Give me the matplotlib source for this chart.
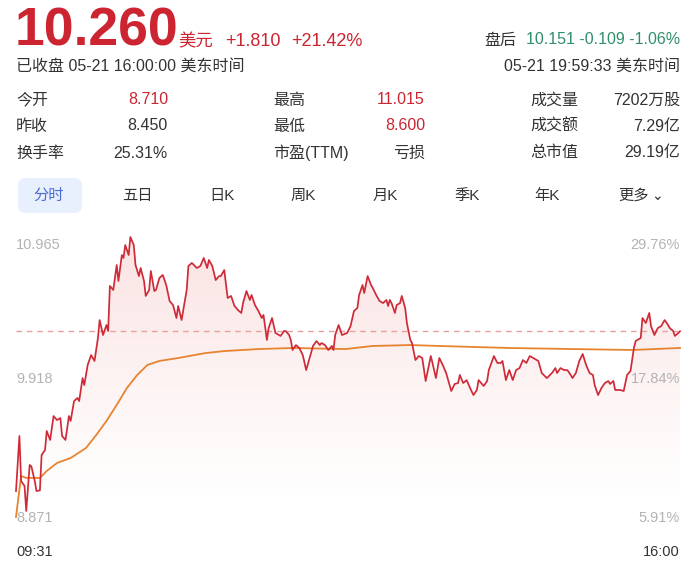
import numpy as np
import matplotlib
matplotlib.use("Agg")
import matplotlib.pyplot as plt
from matplotlib.colors import to_rgb
from matplotlib.patches import FancyBboxPatch

plt.rcParams['font.family'] = ['Liberation Sans', 'Noto Sans CJK SC', 'DejaVu Sans']

W, H = 700, 572

# quote header
last_price = '10.260'
change = '+1.810'
change_pct = '+21.42%'
status = '已收盘 05-21 16:00:00 美东时间'
after_hours = '10.151 -0.109 -1.06%'
after_time = '05-21 19:59:33 美东时间'

stat_labels = [['今开', '昨收', '换手率'],
               ['最高', '最低', '市盈(TTM)'],
               ['成交量', '成交额', '总市值']]
stat_values = [['8.710', '8.450', '25.31%'],
               ['11.015', '8.600', '亏损'],
               ['7202万股', '7.29亿', '29.19亿']]
stat_red = [[True, False, False],
            [True, True, False],
            [False, False, False]]

tabs = ['分时', '五日', '日K', '周K', '月K', '季K', '年K', '更多']

# intraday minutes since 09:31 and price
minutes = [0, 2, 3, 5, 6, 8, 9, 11, 12, 14, 15, 17, 18, 20, 22, 24, 26, 27, 29, 31,
           32, 34, 36, 37, 39, 40, 42, 44, 46, 48, 49, 51, 53, 54, 55, 57, 59, 60, 62, 63,
           64, 66, 67, 69, 70, 72, 73, 75, 76, 78, 79, 81, 82, 84, 86, 88, 90, 92, 94, 95,
           97, 100, 101, 103, 106, 108, 110, 112, 113, 115, 117, 119, 120, 122, 124, 126, 128, 130, 132, 133,
           135, 137, 138, 140, 142, 144, 145, 147, 148, 150, 152, 154, 155, 157, 158, 160, 161, 162, 164, 166,
           168, 170, 172, 174, 176, 178, 179, 181, 183, 185, 186, 187, 189, 191, 194, 196, 198, 200, 201, 203,
           204, 206, 208, 209, 211, 213, 215, 217, 218, 219, 220, 222, 223, 225, 226, 228, 229, 231, 232, 234,
           236, 238, 240, 243, 244, 246, 248, 250, 252, 255, 257, 259, 260, 262, 264, 266, 268, 270, 271, 274,
           276, 277, 280, 282, 284, 285, 287, 289, 291, 293, 295, 297, 299, 301, 303, 306, 308, 311, 314, 316,
           317, 319, 321, 323, 325, 326, 328, 330, 332, 334, 336, 338, 339, 341, 343, 345, 347, 348, 350, 351,
           354, 356, 358, 360, 362, 363, 366, 367, 369, 371, 372, 374, 376, 378, 380, 382, 383, 385, 386, 388,
           389]
price = [9.065, 9.477, 9.140, 9.103, 8.916, 9.260, 9.250, 9.140, 9.065, 9.070,
         9.335, 9.372, 9.514, 9.447, 9.626, 9.596, 9.611, 9.477, 9.447, 9.626,
         9.589, 9.738, 9.761, 9.738, 9.910, 9.858, 10.008, 10.082, 10.038, 10.210,
         10.344, 10.232, 10.307, 10.262, 10.599, 10.569, 10.756, 10.636, 10.830, 10.808,
         10.905, 10.830, 10.965, 10.905, 10.756, 10.673, 10.733, 10.636, 10.524, 10.569,
         10.711, 10.561, 10.569, 10.658, 10.681, 10.606, 10.486, 10.456, 10.359, 10.449,
         10.344, 10.569, 10.748, 10.771, 10.733, 10.748, 10.808, 10.733, 10.793, 10.748,
         10.643, 10.673, 10.673, 10.718, 10.509, 10.524, 10.449, 10.419, 10.397, 10.471,
         10.561, 10.494, 10.531, 10.456, 10.412, 10.359, 10.382, 10.195, 10.284, 10.359,
         10.247, 10.232, 10.225, 10.262, 10.262, 10.232, 10.195, 10.120, 10.157, 10.135,
         10.082, 9.970, 10.060, 10.150, 10.187, 10.157, 10.172, 10.157, 10.120, 10.150,
         10.120, 10.232, 10.307, 10.232, 10.247, 10.299, 10.412, 10.434, 10.531, 10.606,
         10.546, 10.673, 10.606, 10.584, 10.531, 10.486, 10.471, 10.494, 10.449, 10.494,
         10.471, 10.397, 10.456, 10.471, 10.524, 10.434, 10.322, 10.195, 10.172, 10.045,
         10.075, 10.060, 9.888, 10.075, 10.023, 9.910, 10.060, 10.008, 9.948, 9.813,
         9.866, 9.873, 9.933, 9.873, 9.895, 9.836, 9.783, 9.821, 9.895, 9.851,
         9.888, 9.970, 10.075, 10.023, 10.023, 10.038, 9.895, 9.970, 9.895, 9.970,
         9.985, 10.045, 10.023, 10.075, 10.060, 10.038, 9.948, 9.910, 9.948, 9.985,
         9.948, 9.985, 9.970, 9.970, 9.933, 9.910, 9.948, 10.038, 10.090, 10.008,
         9.948, 9.933, 9.858, 9.783, 9.836, 9.873, 9.888, 9.866, 9.888, 9.821,
         9.821, 9.813, 9.933, 9.963, 10.135, 10.187, 10.210, 10.359, 10.322, 10.397,
         10.299, 10.232, 10.284, 10.299, 10.344, 10.307, 10.284, 10.262, 10.225, 10.247,
         10.260]

avg_minutes = [0, 3, 6, 14, 18, 24, 32, 41, 47, 53, 59, 65, 71, 77, 84, 95, 111, 122, 142, 162,
               193, 209, 231, 248, 289, 326, 361, 389]
avg_price = [8.871, 9.178, 9.163, 9.163, 9.215, 9.275, 9.312, 9.387, 9.484, 9.589,
             9.709, 9.836, 9.933, 10.008, 10.038, 10.060, 10.097, 10.112, 10.127, 10.135,
             10.127, 10.150, 10.157, 10.150, 10.135, 10.127, 10.120, 10.135]

y_max, y_mid, y_min = 10.965, 9.918, 8.871
pct_labels = ['29.76%', '17.84%', '5.91%']
time_labels = ['09:31', '16:00']

RED = '#cc2430'
DARK = '#333333'
GRAY = '#b3b3b3'
GREEN = '#2f8f6b'


def fx(x):
    return x / W


def fy(y):
    return 1 - y / H


fig = plt.figure(figsize=(W / 100, H / 100), dpi=100)
fig.patch.set_facecolor('white')

# header
fig.text(fx(15), fy(46), last_price, fontsize=38.5, fontweight='bold', color=RED, va='baseline')
fig.text(fx(178), fy(46), '美元', fontsize=12.5, color=RED, va='baseline')
fig.text(fx(225), fy(46), change, fontsize=13, color=RED, va='baseline')
fig.text(fx(291), fy(46), change_pct, fontsize=13, color=RED, va='baseline')
fig.text(fx(16), fy(66), status, fontsize=11.5, color=DARK, va='center')

fig.text(fx(484), fy(40), '盘后', fontsize=11.5, color=DARK, va='center')
fig.text(fx(680), fy(40), after_hours, fontsize=11.5, color=GREEN, va='center', ha='right')
fig.text(fx(680), fy(66), after_time, fontsize=11.5, color=DARK, va='center', ha='right')

# stats grid
col_label_x = [16, 273, 530]
col_value_x = [168, 425, 680]
row_y = [100, 126, 153]
for c in range(3):
    for r in range(3):
        fig.text(fx(col_label_x[c]), fy(row_y[r]), stat_labels[c][r], fontsize=11.5,
                 color=DARK, va='center')
        fig.text(fx(col_value_x[c]), fy(row_y[r]), stat_values[c][r], fontsize=11.5,
                 color=RED if stat_red[c][r] else DARK, va='center', ha='right')

# tabs
tab_x = [49, 137, 222, 303, 385, 467, 547, 634]
sel = FancyBboxPatch((fx(18), fy(213)), fx(64), (35) / H,
                     boxstyle='round,pad=0,rounding_size=0.012',
                     transform=fig.transFigure, facecolor='#e8f0fd', edgecolor='none')
fig.patches.append(sel)
for i, t in enumerate(tabs):
    fig.text(fx(tab_x[i]), fy(196), t, fontsize=11, ha='center', va='center',
             color='#4a6bd4' if i == 0 else DARK)
# small chevron after 更多
fig.text(fx(651), fy(196), '⌄', fontsize=10, ha='left', va='center', color=DARK,
         family=['DejaVu Sans'])

# intraday chart
top_px, bot_px = 237, 517
ax = fig.add_axes([fx(16), fy(bot_px), fx(664), (bot_px - top_px) / H])
ax.set_xlim(0, 389)
ax.set_ylim(y_min, y_max)
ax.axis('off')

grad = np.linspace(1, 0, 256)
rgba = np.zeros((256, 1, 4))
rgba[..., :3] = to_rgb('#e0403c')
rgba[..., 3] = (0.14 * np.clip(grad * 1.1 - 0.05, 0, 1) ** 1.1)[:, None]
im = ax.imshow(rgba, extent=[0, 389, y_min, y_max], aspect='auto', origin='upper',
               zorder=1, interpolation='bilinear')
poly = ax.fill_between(minutes, price, y_min, color='none', lw=0)
im.set_clip_path(poly.get_paths()[0], transform=ax.transData)

ax.axhline(price[-1], color='#e6a0a0', lw=1.0, ls=(0, (4, 3.5)), zorder=2)
ax.plot(avg_minutes, avg_price, color='#e8832f', lw=1.3, zorder=3, clip_on=False)
ax.plot(minutes, price, color='#cf2a38', lw=1.25, zorder=4, clip_on=False,
        solid_joinstyle='round')

# axis labels
fig.text(fx(16), fy(238), f'{y_max:.3f}', fontsize=10.5, color=GRAY, va='top')
fig.text(fx(16), fy(379), f'{y_mid:.3f}', fontsize=10.5, color=GRAY, va='center')
fig.text(fx(16), fy(525), f'{y_min:.3f}', fontsize=10.5, color=GRAY, va='bottom')
fig.text(fx(680), fy(238), pct_labels[0], fontsize=10.5, color=GRAY, va='top', ha='right')
fig.text(fx(680), fy(379), pct_labels[1], fontsize=10.5, color=GRAY, va='center', ha='right')
fig.text(fx(680), fy(525), pct_labels[2], fontsize=10.5, color=GRAY, va='bottom', ha='right')
fig.text(fx(16), fy(552), time_labels[0], fontsize=10.5, color=DARK, va='center')
fig.text(fx(680), fy(552), time_labels[1], fontsize=10.5, color=DARK, va='center', ha='right')

fig.savefig('out.png', dpi=100)
